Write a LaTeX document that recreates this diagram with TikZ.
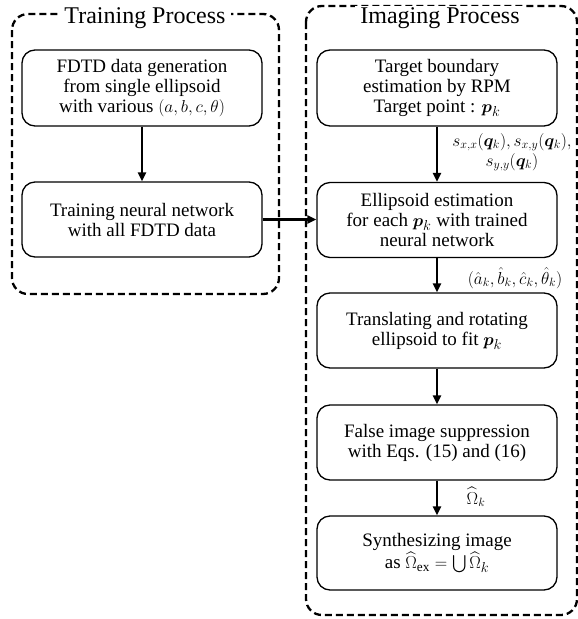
\documentclass[tikz,border=0pt]{standalone}
\usepackage{amsmath}
\usepackage{bm}
\usepackage{fontspec}
\setmainfont{Liberation Serif}
\usetikzlibrary{arrows.meta}
\begin{document}
\begin{tikzpicture}[x=1pt,y=-1pt,
  procbox/.style={draw,line width=1.3pt,rounded corners=13pt,minimum width=240pt,align=center,
    font=\fontsize{19}{20}\selectfont,inner sep=0pt},
  group/.style={draw,line width=2.3pt,dash pattern=on 7pt off 4pt,rounded corners=16pt},
  title/.style={fill=white,font=\fontsize{24}{26}\selectfont,inner xsep=5pt,inner ysep=1pt,anchor=base},
  flow/.style={line width=2.2pt,-{Triangle[length=9pt,width=8pt]}},
  lab/.style={font=\fontsize{17}{20}\selectfont,align=center}]
\useasboundingbox (0,0) rectangle (578,619);
% groups
\draw[group] (12,14) rectangle (279,294);
\draw[group] (306,6) rectangle (577,615);
\node[title] (tt) at (145,23) {Training Process};
\node[title] (it) at (440,23) {Imaging Process};
% left boxes
\node[procbox,minimum height=76pt] (l1) at (142,88) {FDTD data generation\\from single ellipsoid\\with various $(a,b,c,\theta)$};
\node[procbox,minimum height=75pt] (l2) at (142,219.5) {Training neural network\\with all FDTD data};
% right boxes
\node[procbox,minimum height=76pt] (r1) at (437,88) {Target boundary\\estimation by RPM\\Target point : $\bm{p}_k$};
\node[procbox,minimum height=75pt] (r2) at (437,220) {Ellipsoid estimation\\for each $\bm{p}_k$ with trained\\neural network};
\node[procbox,minimum height=75pt] (r3) at (437,330.5) {Translating and rotating\\ellipsoid to fit $\bm{p}_k$};
\node[procbox,minimum height=75pt] (r4) at (437,442.5) {False image suppression\\with Eqs. (15) and (16)};
\node[procbox,minimum height=74pt] (r5) at (437,553) {Synthesizing image\\as $\widehat{\Omega}_{\mathrm{ex}}=\bigcup\widehat{\Omega}_k$};
% arrows
\draw[flow] (l1) -- (l2);
\draw[flow] (l2.east) -- (r2.west |- l2.east);
\draw[flow] (r1) -- (r2);
\draw[flow] (r2) -- (r3);
\draw[flow] (r3) -- (r4);
\draw[flow] (r4) -- (r5);
% labels
\node[lab] (la) at (512,152) {$s_{x,x}(\bm{q}_k), s_{x,y}(\bm{q}_k),$\\$s_{y,y}(\bm{q}_k)$};
\node[lab] (lb) at (515,278) {$(\hat{a}_k,\hat{b}_k,\hat{c}_k,\hat{\theta}_k)$};
\node[lab] (lc) at (476,497) {$\widehat{\Omega}_k$};
\end{tikzpicture}
\end{document}
